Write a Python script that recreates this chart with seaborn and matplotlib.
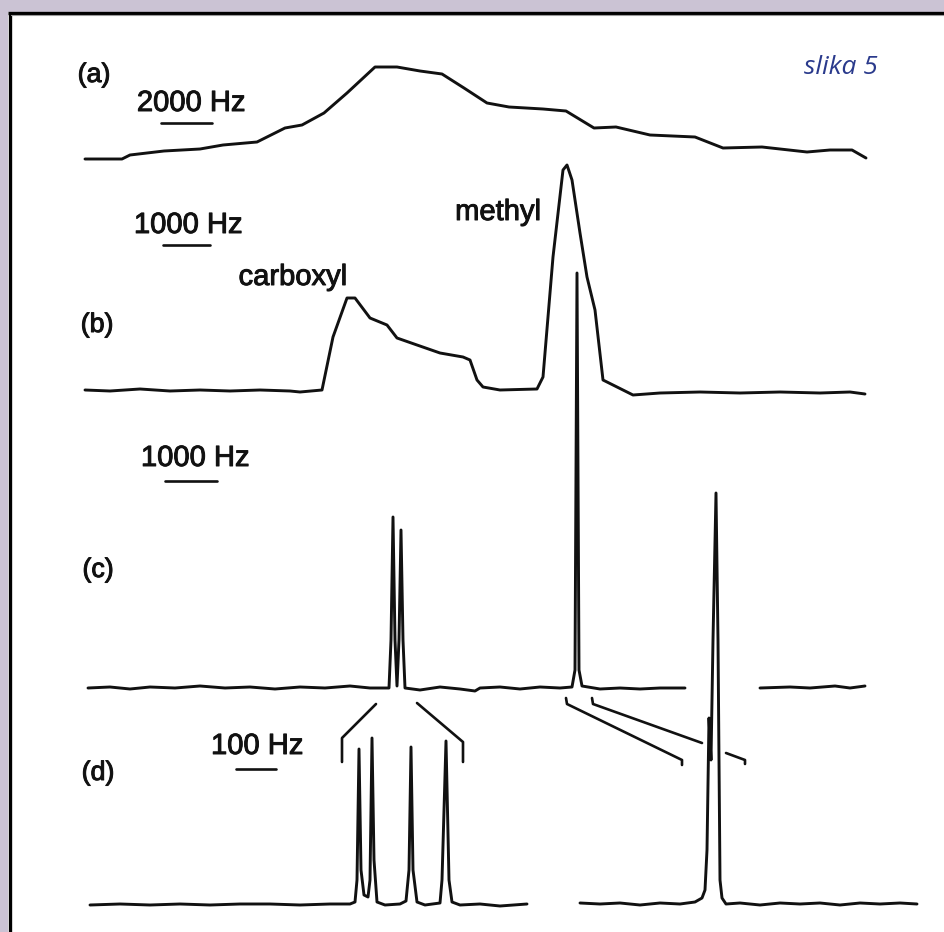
import matplotlib
matplotlib.use("Agg")
import matplotlib.pyplot as plt
import matplotlib.patheffects as pe
from matplotlib.patches import Rectangle
import seaborn as sns

sns.set_theme(style="white")
plt.rcParams['font.family'] = ['Liberation Sans', 'DejaVu Sans']

# ---- spectra (x = position along shift axis, y = page height, downward) ----
# (a) broad powder pattern
trace_a_x = [85, 122, 130, 164, 200, 223, 257, 285, 302, 324, 347, 375, 397, 420,
             442, 464, 487, 509, 543, 566, 594, 616, 650, 695, 723, 762, 807, 830,
             852, 866]
trace_a_y = [159, 159, 155, 151, 149, 145, 142, 128, 125, 113, 93, 67, 67, 71,
             74, 88, 103, 107, 109, 111, 128, 127, 135, 137, 148, 147, 152, 150,
             150, 158]

# (b) carboxyl and methyl bands
trace_b_x = [85, 110, 140, 170, 200, 230, 260, 290, 300, 322, 333, 347, 355, 370,
             387, 397, 417, 440, 463, 470, 477, 483, 500, 537, 543, 553, 563, 567,
             572, 580, 587, 595, 603, 613, 633, 660, 700, 740, 780, 820, 850, 865]
trace_b_y = [390, 391, 389, 391, 390, 391, 390, 391, 392, 390, 337, 298, 298, 318,
             325, 338, 345, 353, 357, 360, 380, 387, 390, 389, 377, 257, 170, 165,
             180, 233, 277, 310, 380, 385, 395, 393, 392, 393, 392, 393, 392, 394]

# (c) high-resolution spectrum, two pieces
trace_c1_x = [88, 110, 130, 150, 175, 200, 225, 250, 275, 300, 325, 350, 370, 389,
              391, 393, 395, 397, 399, 401, 403, 405, 420, 440, 460, 475, 480, 500,
              520, 540, 560, 572, 575, 577, 579, 582, 600, 620, 640, 660, 685]
trace_c1_y = [688, 687, 689, 687, 688, 686, 688, 687, 689, 687, 688, 686, 688, 688,
              640, 517, 640, 686, 640, 530, 640, 688, 690, 687, 689, 691, 688, 687,
              689, 687, 688, 687, 670, 273, 670, 686, 689, 688, 689, 688, 688]
trace_c2_x = [760, 790, 810, 835, 850, 865]
trace_c2_y = [688, 687, 688, 686, 688, 686]

# (d) expanded multiplets, two pieces
trace_d1_x = [90, 120, 150, 180, 210, 240, 270, 300, 330, 350, 355, 357, 359, 361,
              364, 368, 370, 372, 374, 377, 385, 400, 406, 409, 411, 413, 417, 425,
              440, 442, 446, 449, 452, 460, 480, 500, 527]
trace_d1_y = [905, 904, 905, 904, 905, 904, 904, 905, 904, 904, 902, 880, 749, 870,
              895, 897, 880, 738, 860, 902, 905, 904, 901, 870, 747, 870, 902, 905,
              903, 880, 741, 880, 902, 905, 904, 906, 904]
trace_d2_x = [580, 600, 620, 640, 660, 680, 695, 702, 705, 707, 709, 711, 713, 716,
              718, 720, 722, 726, 740, 760, 780, 800, 820, 840, 860, 880, 900, 917]
trace_d2_y = [903, 904, 903, 905, 903, 904, 902, 898, 890, 850, 718, 760, 640, 493,
              640, 880, 898, 904, 903, 905, 903, 904, 903, 905, 903, 904, 903, 904]

# expansion guides between (c) and (d)
guide_x = [[342, 342, 376], [417, 463, 463], [566, 567, 682, 682],
           [592, 593, 702], [726, 745, 745]]
guide_y = [[762, 738, 704], [703, 742, 762], [698, 704, 760, 765],
           [698, 704, 743], [753, 760, 764]]

# frequency scale bars
bar_x = [[161, 212], [163, 210], [165, 217], [236, 276]]
bar_y = [[123, 123], [245, 245], [481, 481], [769, 769]]

# text labels
panel_labels = ["(a)", "(b)", "(c)", "(d)"]
panel_pos = [(94, 75), (97, 325), (98, 570), (98, 773)]
scale_labels = ["2000 Hz", "1000 Hz", "1000 Hz", "100 Hz"]
scale_pos = [(191, 103), (188, 225), (195, 458), (257, 746)]
peak_labels = ["carboxyl", "methyl"]
peak_pos = [(293, 277), (498, 212)]

W, H = 944, 932
fig = plt.figure(figsize=(W / 100, H / 100), dpi=100)
fig.patch.set_facecolor("white")
ax = fig.add_axes([0, 0, 1, 1])
ax.set_facecolor("white")

lw = 2.1
ink = "#111111"

def draw(xs, ys, width=lw):
    sns.lineplot(x=xs, y=ys, sort=False, estimator=None, color=ink,
                 linewidth=width, legend=False, ax=ax)

for xs, ys in [(trace_a_x, trace_a_y), (trace_b_x, trace_b_y),
               (trace_c1_x, trace_c1_y), (trace_c2_x, trace_c2_y),
               (trace_d1_x, trace_d1_y), (trace_d2_x, trace_d2_y)]:
    draw(xs, ys)

for xs, ys in zip(guide_x, guide_y):
    draw(xs, ys, 1.9)
for xs, ys in zip(bar_x, bar_y):
    draw(xs, ys, 1.9)

# slightly heavier lettering, like a printed figure
heavy = [pe.withStroke(linewidth=0.7, foreground=ink)]
fs = 21
for s, (x, y) in zip(panel_labels, panel_pos):
    ax.text(x, y, s, ha="center", va="center", fontsize=fs * 0.92, color=ink,
            path_effects=heavy)
for s, (x, y) in zip(scale_labels, scale_pos):
    ax.text(x, y, s, ha="center", va="center", fontsize=fs, color=ink,
            path_effects=heavy)
for s, (x, y) in zip(peak_labels, peak_pos):
    ax.text(x, y, s, ha="center", va="center", fontsize=fs, color=ink,
            path_effects=heavy)

ax.text(841, 67, "slika 5", ha="center", va="center", fontsize=19,
        color="#2a3a8c", family=["Open Sans", "DejaVu Sans"], style="italic")

# page border: lavender margin and black frame edge
margin = "#cbc3d4"
ax.add_patch(Rectangle((0, 0), W, 12, color=margin, zorder=5, lw=0))
ax.add_patch(Rectangle((0, 0), 8, H, color=margin, zorder=5, lw=0))
ax.plot([9.5, 9.5], [12, H], color="black", lw=2.4, zorder=6,
        solid_capstyle="butt")
ax.plot([8, W], [13, 13], color="black", lw=2.4, zorder=6,
        solid_capstyle="butt")
ax.plot([11, W], [15, 15], color="#9a9a9a", lw=0.8, zorder=6)

ax.set_xlim(0, W)
ax.set_ylim(H, 0)
ax.set_axis_off()

fig.savefig("out.png", dpi=100, facecolor="white")
